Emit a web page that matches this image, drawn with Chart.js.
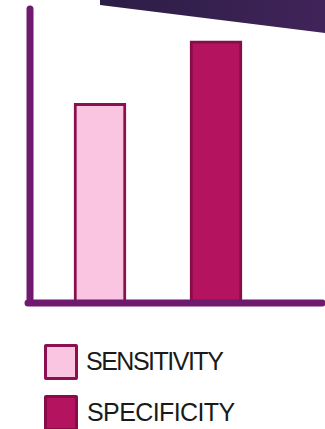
<!DOCTYPE html>
<html>
<head>
<meta charset="utf-8">
<script src="https://cdn.jsdelivr.net/npm/chart.js@4"></script>
<style>
  html, body { margin: 0; padding: 0; background: #fff; }
  #wrap { position: relative; width: 325px; height: 429px; overflow: hidden; }
  #banner {
    position: absolute; left: 0; top: 0; width: 325px; height: 40px;
    background: linear-gradient(90deg, #2b1d45 30%, #41245a 100%);
    clip-path: polygon(100px 0, 325px 0, 325px 33px, 100px 5px);
  }
  #chartBox { position: absolute; left: 0; top: 0; width: 325px; height: 320px; }
  .key { position: absolute; left: 44px; width: 28px; height: 30px; border: 3px solid; border-radius: 2px; }
  .lbl { position: absolute; font-family: "Liberation Sans", Arial, sans-serif; font-size: 25px; line-height: 25px; color: #1a1a1a; white-space: nowrap; }
</style>
</head>
<body>
<div id="wrap">
  <div id="chartBox"><canvas id="myChart" width="325" height="320"></canvas></div>
  <div id="banner"></div>
  <div class="key" style="top:344px; background:#f9c5e1; border-color:#8c0f50;"></div>
  <div class="lbl" style="left:86px; top:349px; letter-spacing:-1.5px;">SENSITIVITY</div>
  <div class="key" style="top:395px; background:#b4135f; border-color:#870c48;"></div>
  <div class="lbl" style="left:87px; top:400px; letter-spacing:-0.6px;">SPECIFICITY</div>
</div>
<script>
// chart values
const categories = ['SENSITIVITY', 'SPECIFICITY'];
const values = [67, 88];
const fillColors = ['#f9c5e1', '#b4135f'];
const borderColors = ['#8c0f50', '#870c48'];

// draws the two thick purple axis lines with round caps
const axisLines = {
    id: 'axisLines',
    afterDatasetsDraw(chart) {
        const ctx = chart.ctx;
        const area = chart.chartArea;
        const x0 = area.left - 12;
        ctx.save();
        ctx.strokeStyle = '#6f1a6e';
        ctx.lineWidth = 7;
        ctx.lineCap = 'round';
        ctx.beginPath();
        ctx.moveTo(x0, 9);
        ctx.lineTo(x0, area.bottom);
        ctx.moveTo(x0 - 2, area.bottom);
        ctx.lineTo(322, area.bottom);
        ctx.stroke();
        ctx.restore();
    }
};

const ctx = document.getElementById('myChart').getContext('2d');
new Chart(ctx, {
    type: 'bar',
    data: {
        labels: categories,
        datasets: [{
            data: values,
            backgroundColor: fillColors,
            borderColor: borderColors,
            borderWidth: 3,
            borderSkipped: false,
            barThickness: 52
        }]
    },
    options: {
        responsive: false,
        animation: false,
        layout: { padding: { left: 42, right: 51, top: 5, bottom: 17 } },
        plugins: { legend: { display: false }, tooltip: { enabled: false } },
        scales: {
            x: { display: false },
            y: { display: false, min: 0, max: 100 }
        }
    },
    plugins: [axisLines]
});
</script>
</body>
</html>
